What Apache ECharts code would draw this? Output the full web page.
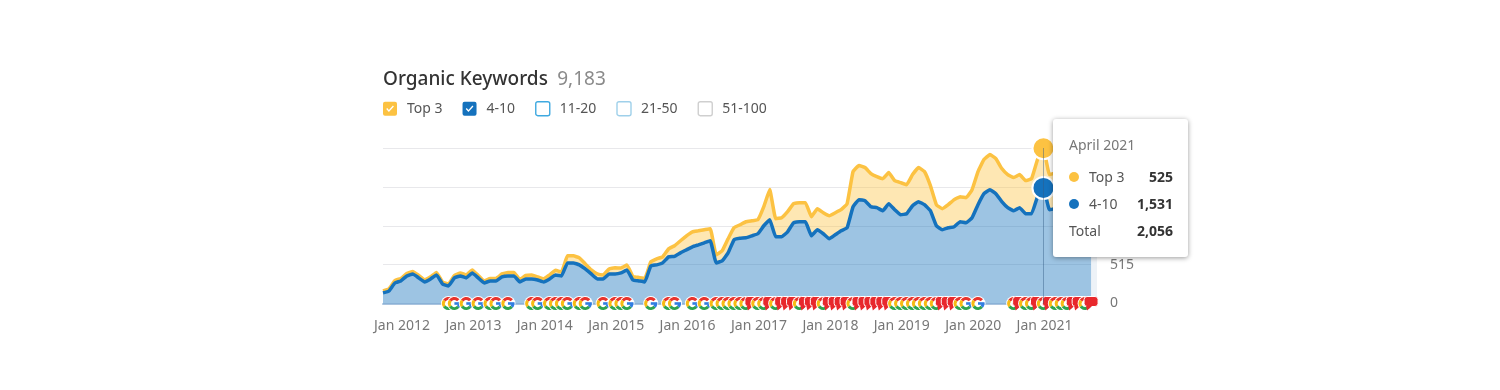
<!DOCTYPE html>
<html>
<head>
<meta charset="utf-8">
<style>
html,body{margin:0;padding:0;background:#fff;}
#main{width:1500px;height:390px;}
</style>
<script src="https://cdn.jsdelivr.net/npm/echarts@6/dist/echarts.min.js"></script>
</head>
<body>
<div id="main"></div>
<script>
var monthNames = ['January','February','March','April','May','June','July','August','September','October','November','December'];
var years = [2012,2013,2014,2015,2016,2017,2018,2019,2020,2021];
var categories = [];
years.forEach(function(y){
  monthNames.forEach(function(m){ categories.push(m.slice(0,3)+' '+y); });
});
categories.push('Jan 2022'); // empty slot at the right end of the plot

var values410 = [140,166,272,299,365,392,339,286,326,379,259,233,
  339,365,339,405,339,272,299,299,352,365,365,286,
  326,326,312,286,326,379,365,538,538,512,458,392,
  326,326,392,392,405,445,312,299,286,498,512,538,
  618,625,671,711,751,777,804,831,538,565,671,844,
  864,870,897,924,1030,1110,884,884,950,1070,1083,1083,
  897,977,924,857,910,964,1003,1282,1376,1362,1282,1269,
  1229,1322,1243,1176,1189,1296,1349,1309,1229,1030,977,1003,
  1017,1083,1070,1136,1309,1455,1508,1455,1349,1269,1229,1269,
  1189,1189,1415,1531,1243,1260,1290,1300,1340,1310,1280,1290];
var valuesTop3 = [27,27,33,33,33,33,33,27,27,33,27,27,
  33,40,40,40,33,27,33,33,40,46,46,33,
  46,53,40,40,53,60,53,93,93,93,66,53,
  66,53,66,80,66,66,46,46,46,53,80,80,
  106,140,160,186,199,186,173,160,106,133,186,160,
  179,213,199,186,253,399,239,253,266,253,253,253,
  253,279,279,306,292,279,319,465,452,439,439,412,
  425,412,385,425,385,412,452,439,332,279,279,306,
  359,332,332,372,439,452,465,465,439,439,439,439,
  439,465,492,525,465,470,470,480,470,470,480,470];

// months with an algorithm update marker (G) and with a red note marker
var googleMonths = [11,12,14,16,18,19,21,25,26,28,29,30,31,33,34,37,39,40,41,45,48,49,52,54,
  56,57,58,59,60,61,63,64,66,70,74,79,86,87,88,89,90,91,92,93,97,98,100,
  106,108,109,111,113,114,115,118];
var noteMonths = [62,65,67,68,69,71,72,73,75,76,77,78,80,81,82,83,84,85,94,95,96,107,110,112,116,117,119];

var hoverIndex = 111;
var hoverTitle = 'April 2021';
var hoverTotal = '2,056';
var legendNames = ['Top 3','4-10','11-20','21-50','51-100'];
var yTicks = 515;
var yMax = 2060;

var yellow = '#fcc242';
var blue = '#1572bd';

var markers = [];
googleMonths.forEach(function(m){ markers.push([m,0,0]); });
noteMonths.forEach(function(m){ markers.push([m,0,1]); });
markers.sort(function(a,b){ return a[0]-b[0]; });

function withDot(arr,color){
  return arr.map(function(v,i){
    if(i!==hoverIndex) return v;
    return {value:v,symbol:'circle',symbolSize:20,itemStyle:{color:color,borderColor:'#fff',borderWidth:2,opacity:1}};
  });
}

function arc(cx,cy,from,to,color){
  return {type:'arc',shape:{cx:cx,cy:cy,r:5,startAngle:from*Math.PI/180,endAngle:to*Math.PI/180,clockwise:true},
    style:{stroke:color,lineWidth:3,fill:null}};
}

function renderMarker(params,api){
  var p = api.coord([api.value(0),0]);
  var x = p[0], y = p[1];
  if(api.value(2)===1){
    return {type:'group',children:[
      {type:'rect',shape:{x:x-7,y:y-7,width:14,height:10,r:3},style:{fill:'#e8282c',stroke:'#fff',lineWidth:1}},
      {type:'polygon',shape:{points:[[x-5,y+2.5],[x+1,y+2.5],[x-4,y+7]]},style:{fill:'#e8282c'}}
    ]};
  }
  return {type:'group',children:[
    {type:'circle',shape:{cx:x,cy:y,r:7.5},style:{fill:'#fff'}},
    arc(x,y,-145,-40,'#e8332c'),
    arc(x,y,145,215,'#f7bb14'),
    arc(x,y,40,145,'#2ea44f'),
    arc(x,y,0,40,'#2f7de1'),
    {type:'rect',shape:{x:x,y:y-1.3,width:6.5,height:2.6},style:{fill:'#2f7de1'}}
  ]};
}

function row(dot,name,val){
  var d = dot ? '<span style="position:absolute;left:16px;top:5px;width:10px;height:10px;border-radius:50%;background:'+dot+'"></span>' : '';
  var left = dot ? 36 : 16;
  return '<div style="position:relative;height:27px;line-height:20px;">'+d+
    '<span style="position:absolute;left:'+left+'px;top:0;color:#555;">'+name+'</span>'+
    '<span style="position:absolute;right:15px;top:0;color:#333;font-weight:700;">'+val+'</span></div>';
}

function fmt(n){ return n.toString().replace(/\B(?=(\d{3})+$)/g,','); }

var boxPath = 'path://M2 0H12A2 2 0 0 1 14 2V12A2 2 0 0 1 12 14H2A2 2 0 0 1 0 12V2A2 2 0 0 1 2 0Z';
var checkPath = boxPath+'M3.2 7.2L5.9 10.2L10.9 4.8L9.9 3.9L5.9 8.3L4.2 6.3Z';

var chart = echarts.init(document.getElementById('main'));
var option = {
  animation:false,
  textStyle:{fontFamily:'"Noto Sans",sans-serif'},
  title:{
    left:378,top:65,
    text:'{a|Organic Keywords}  {b|9,183}',
    textStyle:{rich:{
      a:{fontFamily:'"Noto Sans"',fontSize:19,fontWeight:500,color:'#333'},
      b:{fontFamily:'"Noto Sans"',fontSize:19,fontWeight:'normal',color:'#8a8a8a'}
    }}
  },
  legend:{
    left:378,top:96,itemWidth:14,itemHeight:14,itemGap:20,
    textStyle:{fontFamily:'"Noto Sans"',fontSize:14,color:'#555',padding:[0,0,0,5]},
    data:[
      {name:legendNames[0],icon:checkPath,itemStyle:{color:'#fcc242'}},
      {name:legendNames[1],icon:checkPath,itemStyle:{color:blue}},
      {name:legendNames[2],icon:boxPath,itemStyle:{color:'#fff',borderColor:'#3fa9e0',borderWidth:1.4}},
      {name:legendNames[3],icon:boxPath,itemStyle:{color:'#fff',borderColor:'#9fd0ea',borderWidth:1.4}},
      {name:legendNames[4],icon:boxPath,itemStyle:{color:'#fff',borderColor:'#cfcfcf',borderWidth:1.4}}
    ]
  },
  grid:{left:383,right:403,top:148,bottom:86.5},
  xAxis:{
    type:'category',data:categories,boundaryGap:false,
    axisTick:{show:false},
    axisLine:{lineStyle:{color:'#a9c3de',width:2}},
    axisLabel:{
      color:'#777',fontSize:14,margin:16,padding:[0,0,0,38],
      interval:function(i){ return i%12===0 && i<=108; }
    }
  },
  yAxis:{
    type:'value',position:'right',min:0,max:yMax,interval:yTicks,
    axisLine:{show:false},axisTick:{show:false},
    splitLine:{lineStyle:{color:'#e8e8eb',width:1}},
    axisLabel:{color:'#777',fontSize:14,margin:13,align:'left',formatter:function(v){ return fmt(v); }}
  },
  tooltip:{
    trigger:'axis',triggerOn:'none',alwaysShowContent:true,transitionDuration:0,
    position:[1053,119],padding:0,borderWidth:0,backgroundColor:'#fff',
    extraCssText:'width:135px;height:138px;border-radius:3px;box-shadow:0 1px 5px rgba(0,0,0,.4);',
    axisPointer:{type:'line',lineStyle:{color:'rgba(50,90,130,.45)',width:1,type:'solid'}},
    formatter:function(){
      return '<div style="font-family:\'Noto Sans\';font-size:14px;width:135px;height:138px;">'+
        '<div style="padding:16px 0 0 16px;height:32px;line-height:20px;color:#777;">'+hoverTitle+'</div>'+
        row(yellow,legendNames[0],fmt(valuesTop3[hoverIndex]))+
        row(blue,legendNames[1],fmt(values410[hoverIndex]))+
        row(null,'Total',hoverTotal)+
        '</div>';
    }
  },
  series:[
    {
      name:legendNames[1],type:'line',stack:'kw',data:withDot(values410,blue),
      symbol:'none',showSymbol:true,showAllSymbol:true,smooth:0.1,z:4,
      lineStyle:{color:blue,width:3.5},itemStyle:{color:blue},
      areaStyle:{color:blue,opacity:0.42},
      emphasis:{disabled:true},
      markArea:{silent:true,itemStyle:{color:'#edf2f7'},
        data:[[{xAxis:categories[119]},{xAxis:categories[120]}]]}
    },
    {
      name:legendNames[0],type:'line',stack:'kw',data:withDot(valuesTop3,yellow),
      symbol:'none',showSymbol:true,showAllSymbol:true,smooth:0.1,z:3,
      lineStyle:{color:yellow,width:3.5},itemStyle:{color:yellow},
      areaStyle:{color:yellow,opacity:0.4},
      emphasis:{disabled:true}
    },
    {name:legendNames[2],type:'line',data:[]},
    {name:legendNames[3],type:'line',data:[]},
    {name:legendNames[4],type:'line',data:[]},
    {
      type:'custom',data:markers,renderItem:renderMarker,silent:true,z:6,clip:false,
      encode:{x:0,y:1},tooltip:{show:false}
    }
  ]
};
chart.setOption(option);
chart.dispatchAction({type:'showTip',seriesIndex:0,dataIndex:hoverIndex});
</script>
</body>
</html>
